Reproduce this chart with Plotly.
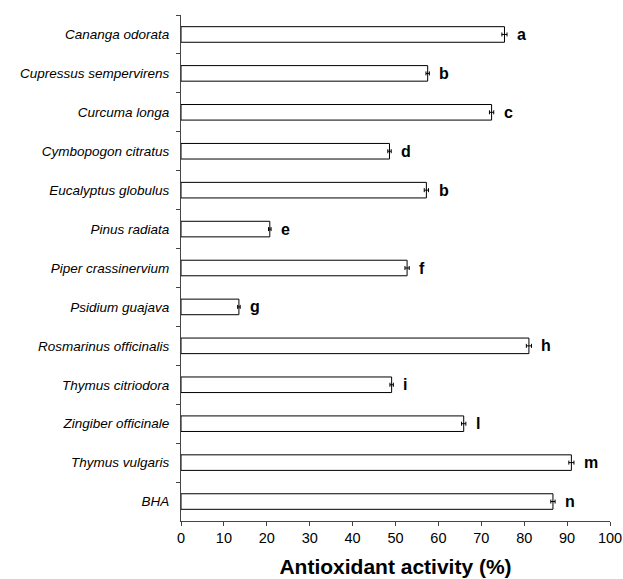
import plotly.graph_objects as go

species = ["Cananga odorata", "Cupressus sempervirens", "Curcuma longa", "Cymbopogon citratus",
           "Eucalyptus globulus", "Pinus radiata", "Piper crassinervium", "Psidium guajava",
           "Rosmarinus officinalis", "Thymus citriodora", "Zingiber officinale", "Thymus vulgaris", "BHA"]
activity = [75.4, 57.5, 72.4, 48.6, 57.2, 20.7, 52.7, 13.5, 81.1, 49.1, 65.9, 91.0, 86.7]
errors = [0.6, 0.4, 0.5, 0.4, 0.5, 0.3, 0.5, 0.3, 0.6, 0.4, 0.5, 0.6, 0.5]
letters = ["a", "b", "c", "d", "b", "e", "f", "g", "h", "i", "l", "m", "n"]

fig = go.Figure()
fig.add_trace(go.Bar(
    y=species, x=activity, orientation="h",
    marker=dict(color="white", line=dict(color="black", width=1)),
    error_x=dict(type="data", array=errors, color="black", thickness=1, width=2),
    showlegend=False,
))
for s, v, e, l in zip(species, activity, errors, letters):
    fig.add_annotation(x=v + e, y=s, text="<b>%s</b>" % l, showarrow=False,
                       xanchor="left", xshift=8,
                       font=dict(family="Liberation Sans, Arial", size=16, color="black"))

fig.update_layout(
    width=623, height=579,
    margin=dict(l=181, r=13, t=15, b=58),
    plot_bgcolor="white", paper_bgcolor="white",
    bargap=0.6,
    font=dict(family="Liberation Sans, Arial", color="black"),
)
fig.update_yaxes(
    categoryorder="array", categoryarray=species, autorange="reversed",
    tickson="boundaries", ticks="outside", ticklen=4, tickcolor="#444",
    showline=True, linecolor="#444", linewidth=1, automargin=False,
    showgrid=False, tickfont=dict(size=13.5, style="italic"), ticklabelstandoff=8,
)
fig.update_xaxes(
    range=[0, 100], tickmode="linear", tick0=0, dtick=10,
    ticks="outside", ticklen=4, tickcolor="#444", automargin=False,
    showline=True, linecolor="#444", linewidth=1, showgrid=False, zeroline=False,
    tickfont=dict(size=14.5),
    title=dict(text="<b>Antioxidant activity (%)</b>", font=dict(size=21), standoff=13),
)
fig.write_html("out.html", config={"displayModeBar": False},
               post_script="document.body.style.margin='0px';document.body.style.overflow='hidden';")
